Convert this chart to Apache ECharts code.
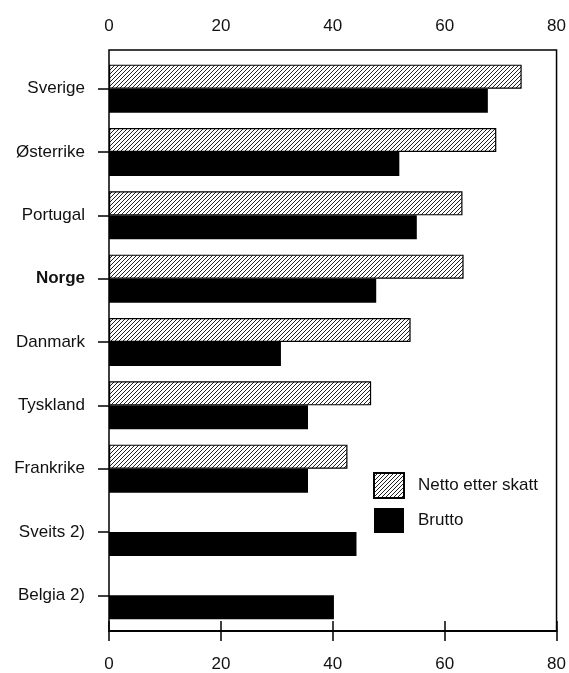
<!DOCTYPE html>
<html>
<head>
<meta charset="utf-8">
<script src="https://cdn.jsdelivr.net/npm/echarts@6/dist/echarts.min.js"></script>
<style>
html, body { margin: 0; padding: 0; background: #fff; }
#chart { width: 569px; height: 673px; }
</style>
</head>
<body>
<div id="chart"></div>
<script>
var land = ['Sverige', 'Østerrike', 'Portugal', 'Norge', 'Danmark', 'Tyskland', 'Frankrike', 'Sveits 2)', 'Belgia 2)'];
var netto = [73.2, 68.7, 62.7, 62.9, 53.5, 46.5, 42.3, null, null];
var brutto = [67.2, 51.5, 54.6, 47.4, 30.5, 35.3, 35.3, 43.9, 39.9];
var xTicks = [0, 20, 40, 60, 80];

// skravur for netto-stolpene
function hatch() {
    var c = document.createElement('canvas');
    c.width = 4;
    c.height = 4;
    var ctx = c.getContext('2d');
    ctx.fillStyle = '#fff';
    ctx.fillRect(0, 0, 4, 4);
    ctx.strokeStyle = '#222';
    ctx.lineWidth = 1;
    ctx.beginPath();
    ctx.moveTo(0, 4); ctx.lineTo(4, 0);
    ctx.moveTo(-1, 1); ctx.lineTo(1, -1);
    ctx.moveTo(3, 5); ctx.lineTo(5, 3);
    ctx.stroke();
    return c;
}

var font = 'Liberation Sans';
var chart = echarts.init(document.getElementById('chart'));

var xAxisBase = {
    type: 'value',
    gridIndex: 0,
    min: xTicks[0],
    max: xTicks[xTicks.length - 1],
    interval: 20,
    axisLine: { show: true, lineStyle: { color: '#000', width: 1.5 } },
    axisTick: { show: true, inside: false, length: 10, lineStyle: { color: '#000', width: 1.5 } },
    splitLine: { show: false },
    axisLabel: { color: '#111', fontFamily: font, fontSize: 17 }
};

chart.setOption({
    animation: false,
    grid: [
        { left: 109, right: 9, top: 50, bottom: 36, show: true, borderColor: '#000', borderWidth: 1.5, backgroundColor: 'transparent' },
        { left: 109, right: 9, top: 57, height: 570 }
    ],
    xAxis: [
        Object.assign({}, xAxisBase, { position: 'top', axisLabel: Object.assign({}, xAxisBase.axisLabel, { margin: 15 }) }),
        Object.assign({}, xAxisBase, { position: 'bottom', axisLabel: Object.assign({}, xAxisBase.axisLabel, { margin: 25 }) }),
        { type: 'value', gridIndex: 1, min: 0, max: 80, show: false }
    ],
    yAxis: [
        { type: 'value', gridIndex: 0, show: false },
        {
            type: 'category',
            gridIndex: 1,
            data: land,
            inverse: true,
            axisLine: { show: false },
            axisTick: { show: true, alignWithLabel: true, length: 11, lineStyle: { color: '#000', width: 1.5 } },
            axisLabel: {
                margin: 24,
                color: '#111',
                fontFamily: font,
                fontSize: 17,
                formatter: function (v) {
                    return v === 'Norge' ? '{b|' + v + '}' : v;
                },
                rich: { b: { fontWeight: 'bold', fontFamily: font, fontSize: 17, color: '#111' } }
            }
        }
    ],
    legend: {
        orient: 'vertical',
        left: 373,
        top: 472,
        padding: 0,
        itemWidth: 30,
        itemHeight: 25,
        itemGap: 9,
        icon: 'rect',
        textStyle: { color: '#111', fontFamily: font, fontSize: 17, padding: [0, 0, 0, 9] },
        data: ['Netto etter skatt', 'Brutto']
    },
    series: [
        {
            name: 'Netto etter skatt',
            type: 'bar',
            xAxisIndex: 2,
            yAxisIndex: 1,
            barWidth: 24,
            barGap: '0%',
            data: netto,
            itemStyle: { color: { image: hatch(), repeat: 'repeat' }, borderColor: '#000', borderWidth: 1.2 }
        },
        {
            name: 'Brutto',
            type: 'bar',
            xAxisIndex: 2,
            yAxisIndex: 1,
            barWidth: 24,
            barGap: '0%',
            data: brutto,
            itemStyle: { color: '#000' }
        }
    ]
});
</script>
</body>
</html>
